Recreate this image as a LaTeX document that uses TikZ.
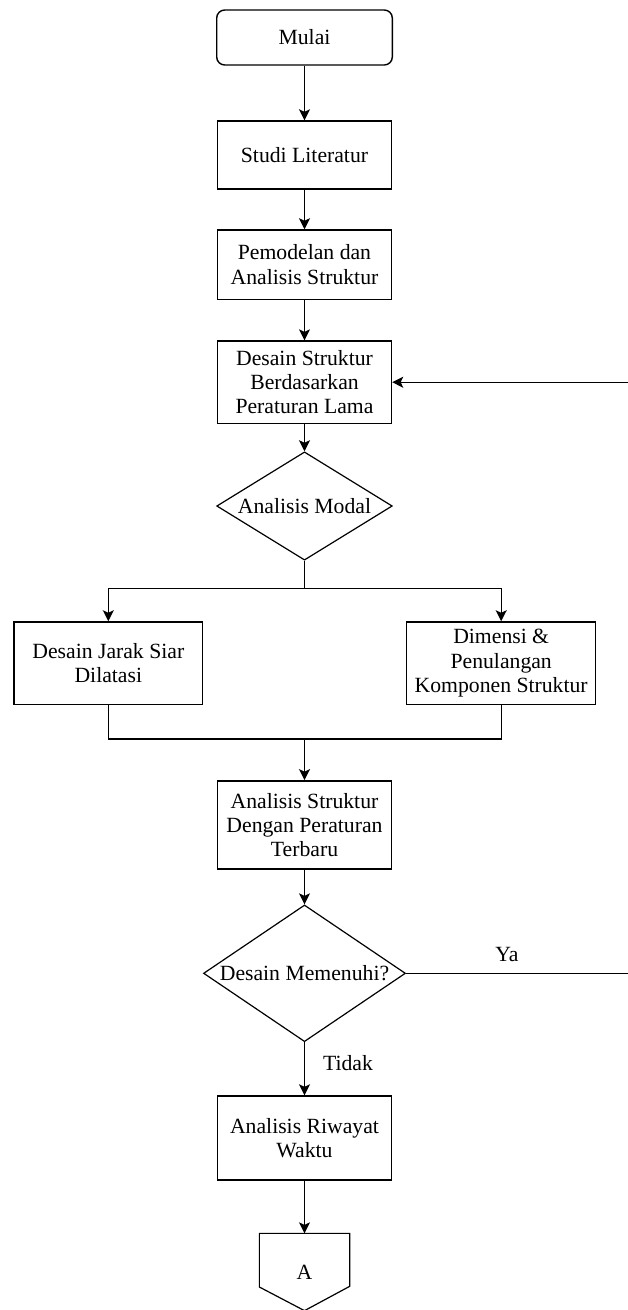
\documentclass[tikz,border=0pt]{standalone}
\usepackage{fontspec}
\setmainfont{Liberation Serif}
\newfontfamily\tnr{Liberation Serif}
\usetikzlibrary{positioning,shapes.geometric,arrows.meta}

\begin{document}
\begin{tikzpicture}[x=1pt,y=-1pt,
    every node/.style={font=\tnr\fontsize{21.7}{24.3}\selectfont, align=center},
    proses/.style={draw, line width=1.4pt, minimum width=174pt, inner sep=0pt},
    keputusan/.style={draw, diamond, line width=1.2pt, inner sep=-12pt},
    conn/.style={-{Stealth[length=11pt,width=11pt,inset=2.5pt]}},
    line width=1.3pt]
    \useasboundingbox (0,0) rectangle (627,1310);

    % kolom utama
    \node[proses, rounded corners=8pt, minimum width=175.6pt, minimum height=55pt] (mulai) at (304.5,37.5) {Mulai};
    \node[proses, minimum height=68pt] (studi) at (304.5,155) {Studi Literatur};
    \node[proses, minimum height=69.3pt] (model) at (304.5,264.6) {Pemodelan dan\\Analisis Struktur};
    \node[proses, minimum height=82.3pt] (desain) at (304.5,382.2) {Desain Struktur\\Berdasarkan\\Peraturan Lama};
    \node[keputusan, minimum width=175.6pt, minimum height=108.3pt] (modal) at (304.5,506) {Analisis Modal};

    % cabang
    \node[proses, minimum width=188.7pt, minimum height=82.7pt] (jarak) at (108.3,663.3) {Desain Jarak Siar\\Dilatasi};
    \node[proses, minimum width=189pt, minimum height=82.7pt] (dimensi) at (501.2,663.3) {Dimensi \&\\Penulangan\\Komponen Struktur};

    \node[proses, minimum height=88.3pt] (baru) at (304.5,825) {Analisis Struktur\\Dengan Peraturan\\Terbaru};
    \node[keputusan, minimum width=202pt, minimum height=136.7pt] (memenuhi) at (304.5,973.3) {Desain Memenuhi?};
    \node[proses, minimum height=84pt] (riwayat) at (304.5,1138) {Analisis Riwayat\\Waktu};
    \node[minimum width=89pt, minimum height=76pt, inner sep=0pt] (hal) at (304.5,1272) {A};
    \draw[line width=1.2pt] (hal.north west) -- (hal.north east) -- ++(0,53) -- (hal.south) -- (hal.west |- 0,1287) -- cycle;

    \node (ya) at (507,954) {Ya};
    \node (tidak) at (348,1063) {Tidak};

    \coordinate (cabang) at (304.5,588.3);
    \coordinate (gabung) at (304.5,739);
    \coordinate (kanan) at (628.8,0);

    % panah
    \draw[conn] (mulai) -- (studi);
    \draw[conn] (studi) -- (model);
    \draw[conn] (model) -- (desain);
    \draw[conn] (desain) -- (modal);
    \draw (modal.south) -- (cabang);
    \draw[conn] (cabang) -| (jarak.north);
    \draw[conn] (cabang) -| (dimensi.north);
    \draw (jarak.south) |- (gabung) -| (dimensi.south);
    \draw[conn] (gabung) -- (baru);
    \draw[conn] (baru) -- (memenuhi);
    \draw[conn] (memenuhi.east) -- (memenuhi.east -| kanan) |- (desain.east);
    \draw[conn] (memenuhi) -- (riwayat);
    \draw[conn] (riwayat) -- (hal);
\end{tikzpicture}
\end{document}
